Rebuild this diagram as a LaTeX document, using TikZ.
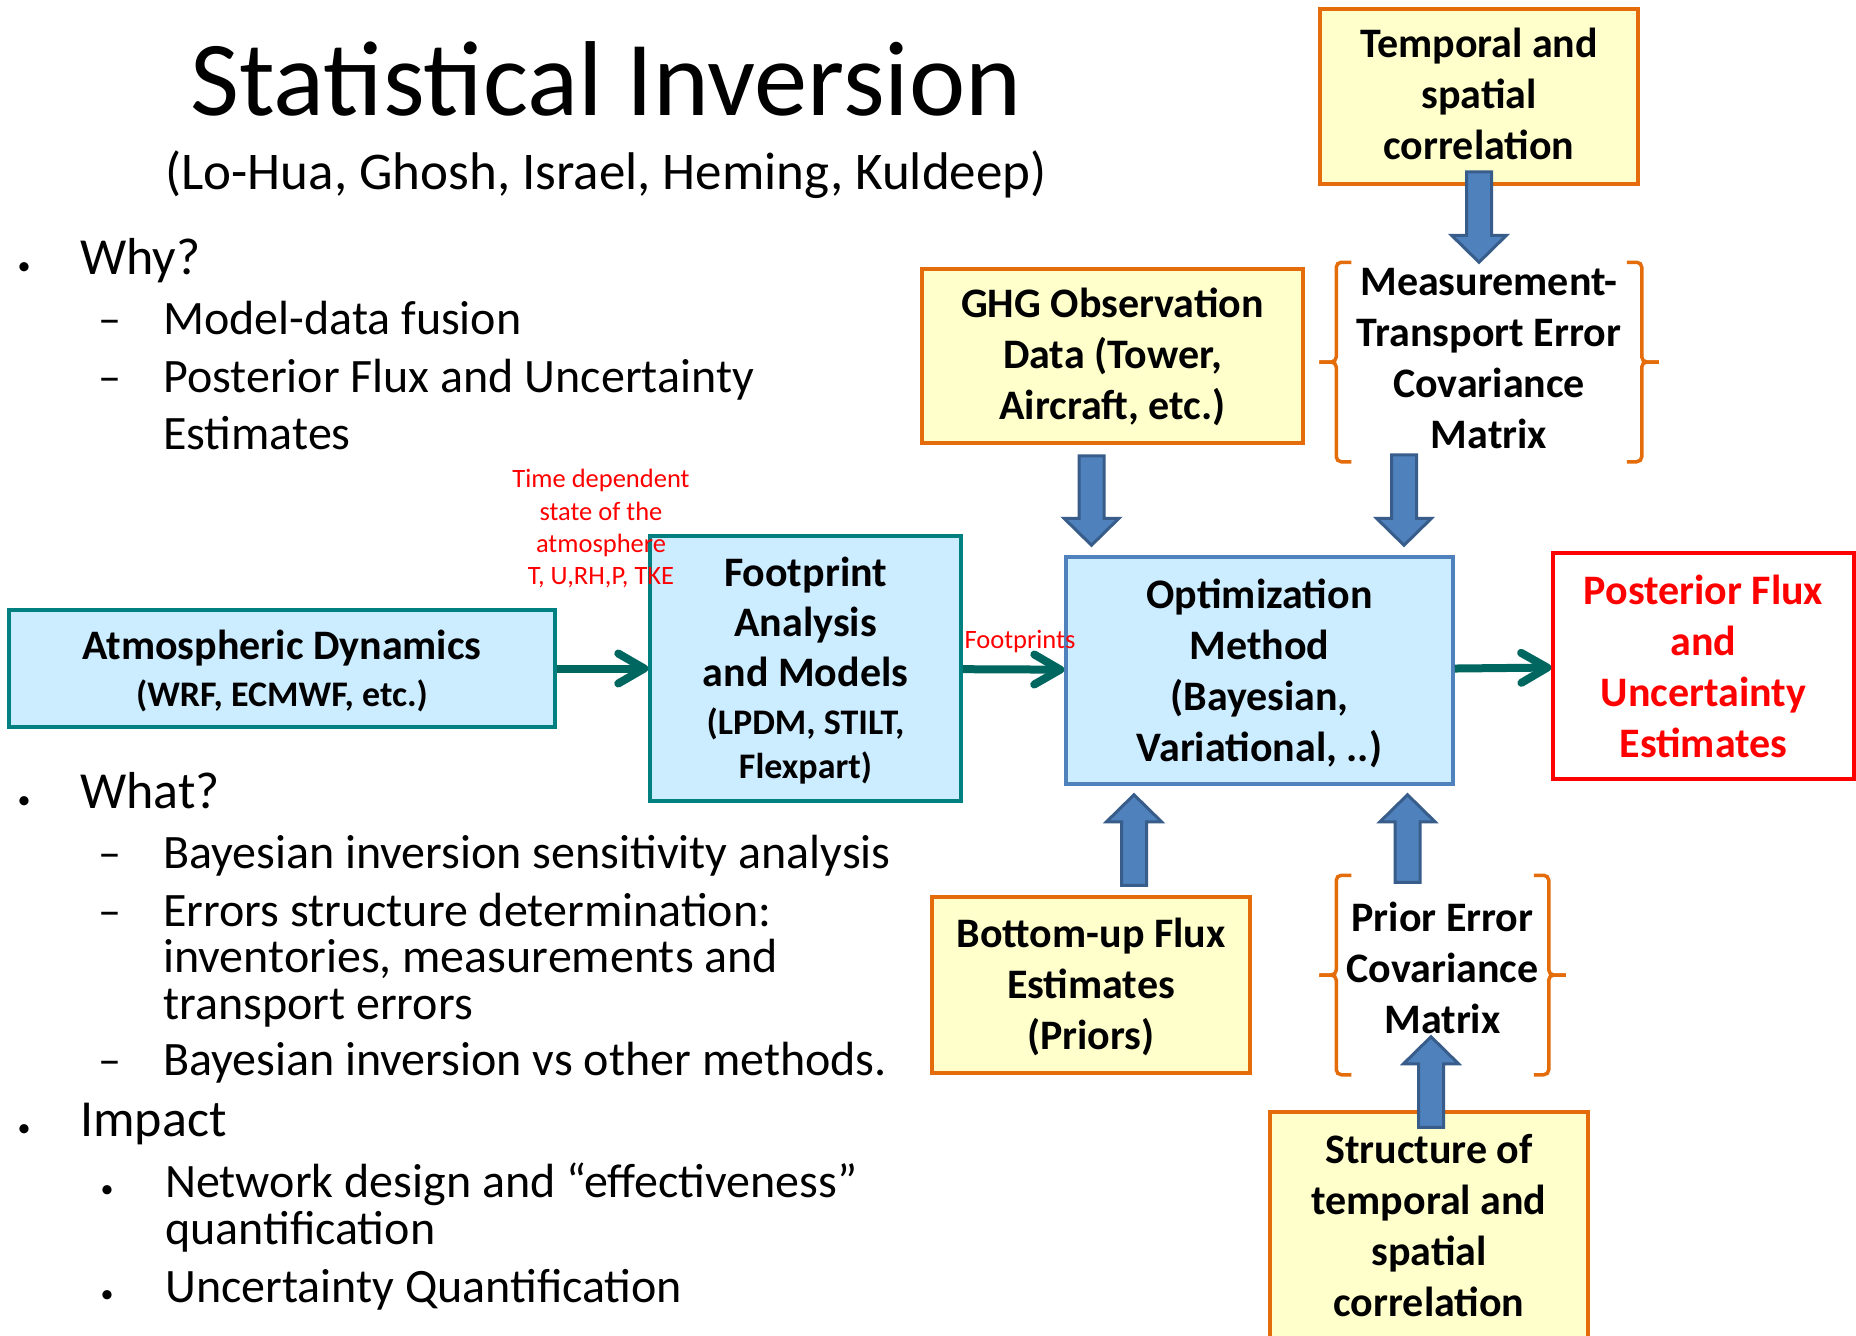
\documentclass[tikz,border=0pt]{standalone}
\usepackage{fontspec}
\setmainfont{Carlito}
\usetikzlibrary{arrows.meta, positioning, calc}
\definecolor{skyfill}{RGB}{204,236,255}
\definecolor{tealline}{RGB}{0,128,128}
\definecolor{tealarrow}{RGB}{0,102,96}
\definecolor{optblue}{RGB}{79,129,189}
\definecolor{arrowedge}{RGB}{56,93,138}
\definecolor{paleyellow}{RGB}{255,255,204}
\definecolor{ochre}{RGB}{228,108,10}

\newcommand{\fsz}[2]{\fontsize{#1}{#2}\selectfont}
% fat blue arrow, from #1 to the height of #2
\newcommand{\blockarrow}[2]{%
  \path[barrow] let \p1=#1, \p2=#2, \n1={\y2-sign(\y2-\y1)*27pt} in
    (\x1-12.5pt,\y1) -- (\x1-12.5pt,\n1) -- (\x1-27.5pt,\n1) -- (\x1,\y2)
    -- (\x1+27.5pt,\n1) -- (\x1+12.5pt,\n1) -- (\x1+12.5pt,\y1) -- cycle;}

\begin{document}
\begin{tikzpicture}[x=1pt, y=-1pt,
    box/.style={line width=3.5pt, inner sep=0pt, align=center, font=\fsz{42}{51}\bfseries},
    modelbox/.style={box, draw=tealline, fill=skyfill},
    inbox/.style={box, draw=ochre, fill=paleyellow},
    brackbox/.style={box},
    outbox/.style={box, draw=red, text=red},
    brk/.style={draw=ochre, line width=3.5pt, rounded corners=5pt},
    barrow/.style={fill=optblue, draw=arrowedge, line width=3pt},
    flow/.style={tealarrow, line width=8pt, -{Straight Barb[length=26pt, width=30pt, round]}},
    note/.style={text=red, inner sep=0pt, align=center, font=\fsz{26.5}{32.3}},
    lvla/.style={anchor=base west, inner sep=0pt, font=\fsz{52}{60}},
    lvlb/.style={anchor=base west, inner sep=0pt, align=left, font=\fsz{48}{57}},
    dota/.style={anchor=base, inner sep=0pt, font=\fsz{26}{30}},
    dashmark/.style={anchor=base, inner sep=0pt, font=\fsz{46}{50}}
  ]
  \fill[white] (0,0) rectangle (1856,1336);
  \useasboundingbox (0,0) rectangle (1856,1336);

  % heading
  \node[anchor=base, inner sep=0pt, font=\fsz{106.5}{120}] (title) at (606,115) {Statistical Inversion};
  \node[anchor=base, inner sep=0pt, font=\fsz{53}{60}] (names) at (606,189) {(Lo-Hua, Ghosh, Israel, Heming, Kuldeep)};

  % bullet list (multi-line nodes sit on their last baseline)
  \node[dota] at (24,274) {•};
  \node[lvla] (why) at (80,274) {Why?};
  \node[dashmark] at (110,334) {–};
  \node[lvlb] (fusion) at (163,334) {Model-data fusion};
  \node[dashmark] at (110,392) {–};
  \node[lvlb] (postest) at (163,449) {Posterior Flux and Uncertainty\\Estimates};
  \node[dota] at (24,808) {•};
  \node[lvla] (what) at (80,808) {What?};
  \node[dashmark] at (110,868) {–};
  \node[lvlb] (sens) at (163,868) {Bayesian inversion sensitivity analysis};
  \node[dashmark] at (110,926) {–};
  \node[lvlb, font=\fsz{48}{46.5}] (errs) at (163,1019) {Errors structure determination:\\inventories, measurements and\\transport errors};
  \node[dashmark] at (110,1075) {–};
  \node[lvlb] (versus) at (163,1075) {Bayesian inversion vs other methods.};
  \node[dota] at (24,1136) {•};
  \node[lvla] (impact) at (80,1136) {Impact};
  \node[dota] at (107,1197) {•};
  \node[lvlb, font=\fsz{48}{47}] (netw) at (165,1244) {Network design and “effectiveness”\\quantification};
  \node[dota] at (107,1302) {•};
  \node[lvlb] (uq) at (165,1302) {Uncertainty Quantification};

  % boxes
  \node[inbox, text depth=4.8pt, minimum width=318, minimum height=175] (temp) at (1479,96.5) {Temporal and\\spatial\\correlation};
  \node[inbox, text depth=4pt, minimum width=381, minimum height=174] (ghg) at (1112.5,356) {GHG Observation\\Data (Tower,\\Aircraft, etc.)};
  \node[brackbox, text depth=8pt, minimum width=302, minimum height=196] (meas) at (1489,362) {Measurement-\\Transport Error\\Covariance\\Matrix};
  \node[modelbox, draw=optblue, text depth=0pt, minimum width=387, minimum height=227] (opt) at (1259.5,670.5) {Optimization\\Method\\(Bayesian,\\Variational, ..)};
  \node[outbox, minimum width=301, minimum height=226] (post) at (1703.5,666) {Posterior Flux\\and\\Uncertainty\\Estimates};
  \node[modelbox, text depth=0.5pt, minimum width=546, minimum height=117] (atm) at (282,668.5) {Atmospheric Dynamics\\[-3.5pt]{\fsz{36}{44}(WRF, ECMWF, etc.)}};
  \node[modelbox, font=\fsz{42}{50}\bfseries, text depth=2pt, minimum width=311, minimum height=265] (fp) at (805.5,668.5) {Footprint\\Analysis\\and Models\\[-2pt]{\fsz{36}{44}(LPDM, STILT,}\\[-6pt]{\fsz{36}{44}Flexpart)}};
  \node[inbox, text depth=2pt, minimum width=318, minimum height=176] (bu) at (1091,985) {Bottom-up Flux\\Estimates\\(Priors)};
  \node[brackbox, text depth=14pt, minimum width=209, minimum height=196] (prior) at (1442.5,975) {Prior Error\\Covariance\\Matrix};
  \node[inbox, text depth=6pt, minimum width=318, minimum height=233] (struct) at (1429,1228.5) {Structure of\\temporal and\\spatial\\correlation};

  % brackets
  \foreach \m in {meas, prior} {
    \draw[brk] ([xshift=15pt]\m.north west) -- (\m.north west) -- (\m.west) -- ([xshift=-17pt]\m.west);
    \draw[brk] ([xshift=-17pt]\m.west) -- (\m.west) -- (\m.south west) -- ([xshift=15pt]\m.south west);
    \draw[brk] ([xshift=-15pt]\m.north east) -- (\m.north east) -- (\m.east) -- ([xshift=17pt]\m.east);
    \draw[brk] ([xshift=17pt]\m.east) -- (\m.east) -- (\m.south east) -- ([xshift=-15pt]\m.south east);
  }

  % red notes
  \node[note, text depth=0pt] (state) at (601,527) {Time dependent\\state of the\\atmosphere\\T, U,RH,P, TKE};
  \node[note] (fplbl) at (1020,642) {Footprints};

  % flow
  \draw[flow] (atm) -- (fp);
  \draw[flow] (fp) -- (opt);
  \draw[flow] (opt) -- (post);

  \blockarrow{([yshift=14pt]temp.south)}{(meas.north)}
  \blockarrow{([xshift=-21pt,yshift=-11pt]ghg.south)}{([yshift=10pt]opt.north)}
  \blockarrow{([xshift=-85pt,yshift=7pt]meas.south)}{([yshift=10pt]opt.north)}
  \blockarrow{([xshift=43pt,yshift=10pt]bu.north)}{([yshift=-9pt]opt.south)}
  \blockarrow{([xshift=-35pt,yshift=-7pt]prior.north)}{([yshift=-9pt]opt.south)}
  \blockarrow{([xshift=2pt,yshift=-17pt]struct.north)}{([yshift=38pt]prior.south)}
\end{tikzpicture}
\end{document}
